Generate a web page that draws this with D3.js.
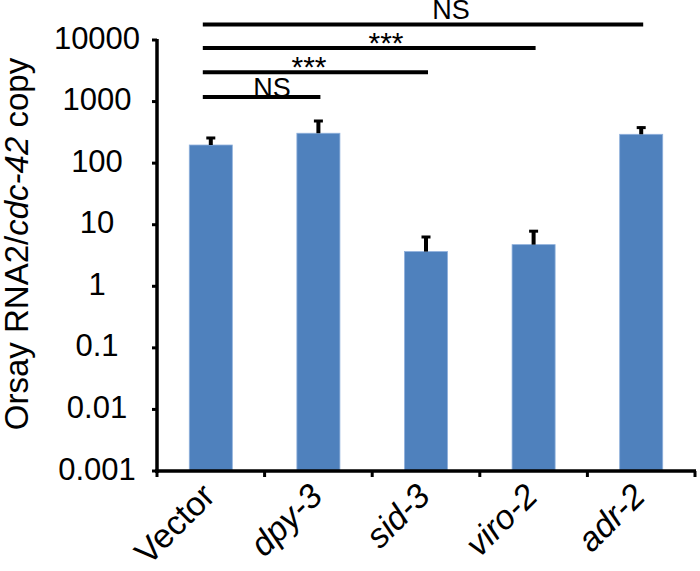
<!DOCTYPE html>
<html>
<head>
<meta charset="utf-8">
<style>
  body { margin: 0; background: #fff; }
  text { font-family: "Liberation Sans", Arial, sans-serif; fill: #000; }
</style>
</head>
<body>
<div id="chart"></div>
<script src="https://d3js.org/d3.v7.min.js"></script>
<script>

// data
var categories = ["Vector", "dpy-3", "sid-3", "viro-2", "adr-2"];
var italicCat  = [false, true, true, true, true];
var values     = [197, 306, 3.66, 4.75, 294];
var errors     = [69, 196, 2.9, 3.4, 98];
var tickValues = [0.001, 0.01, 0.1, 1, 10, 100, 1000, 10000];
var tickLabels = ["0.001", "0.01", "0.1", "1", "10", "100", "1000", "10000"];

// significance brackets: from bar, to bar, label, height (in axis units)
var sigFrom   = [0, 0, 0, 0];
var sigTo     = [1, 2, 3, 4];
var sigText   = ["NS", "***", "***", "NS"];
var sigLevel  = [1190, 3000, 7400, 17800];

var width = 700, height = 571;
var plotL = 157, plotR = 695, plotT = 40, plotB = 471;

var svg = d3.select("#chart").append("svg")
    .attr("width", width)
    .attr("height", height);

var x = d3.scaleBand()
    .domain(categories)
    .range([plotL, plotR])
    .paddingInner(0.6)
    .paddingOuter(0.3);

var y = d3.scaleLog()
    .domain([0.001, 10000])
    .range([plotB, plotT]);

var barcolor = "#4f81bd";

// bars
svg.selectAll("rect.bar")
   .data(categories)
   .enter().append("rect")
   .attr("class", "bar")
   .attr("x", function(d) { return x(d); })
   .attr("width", x.bandwidth())
   .attr("y", function(d, i) { return y(values[i]); })
   .attr("height", function(d, i) { return plotB - y(values[i]); })
   .style("fill", barcolor)
   .style("stroke", "#8fb0dc")
   .style("stroke-width", 0.8);

// error bars (upper only)
var cx = function(i) { return x(categories[i]) + x.bandwidth() / 2; };
categories.forEach(function(d, i) {
  var y0 = y(values[i]), y1 = y(values[i] + errors[i]);
  svg.append("line")
     .attr("x1", cx(i)).attr("x2", cx(i))
     .attr("y1", y0).attr("y2", y1)
     .style("stroke", "#000").style("stroke-width", 4);
  svg.append("line")
     .attr("x1", cx(i) - 4.5).attr("x2", cx(i) + 4.5)
     .attr("y1", y1 + 1).attr("y2", y1 + 1)
     .style("stroke", "#000").style("stroke-width", 3);
});

// y axis
svg.append("line")
   .attr("x1", plotL).attr("x2", plotL)
   .attr("y1", plotT - 1).attr("y2", plotB + 2)
   .style("stroke", "#000").style("stroke-width", 3.5);
tickValues.forEach(function(v, i) {
  svg.append("line")
     .attr("x1", plotL - 5).attr("x2", plotL)
     .attr("y1", y(v)).attr("y2", y(v))
     .style("stroke", "#000").style("stroke-width", 3);
  svg.append("text")
     .text(tickLabels[i])
     .style("font-size", "31px")
     .style("text-anchor", "middle")
     .attr("x", 97)
     .attr("y", y(v) + 8.5);
});

// x axis
svg.append("line")
   .attr("x1", plotL - 2).attr("x2", plotR + 1)
   .attr("y1", plotB).attr("y2", plotB)
   .style("stroke", "#000").style("stroke-width", 3.5);
var bounds = categories.map(function(d) { return x(d) - x.step() * x.paddingInner() / 2; });
bounds.push(plotR);
bounds.forEach(function(b) {
  svg.append("line")
     .attr("x1", b).attr("x2", b)
     .attr("y1", plotB).attr("y2", plotB + 6)
     .style("stroke", "#000").style("stroke-width", 3);
});

// category labels, rotated
categories.forEach(function(d, i) {
  svg.append("text")
     .text(d)
     .style("font-size", "34px")
     .style("font-style", italicCat[i] ? "italic" : "normal")
     .style("text-anchor", "end")
     .attr("transform", "translate(" + (cx(i) + 6) + "," + 498 + ") rotate(-45)");
});

// y axis title
var title = svg.append("text")
   .style("font-size", "33px")
   .style("text-anchor", "middle")
   .attr("transform", "translate(28,244) rotate(-90)");
title.append("tspan").text("Orsay RNA2/");
title.append("tspan").text("cdc-42").style("font-style", "italic");
title.append("tspan").text(" copy");

// significance brackets
var labelX  = [272, 309, 386, 451];
var labelDy = [0, 5, 5, -5.5];
var labelSz = [27, 30, 30, 27];
sigText.forEach(function(t, k) {
  var ly = y(sigLevel[k]);
  svg.append("text")
     .text(t)
     .style("font-size", labelSz[k] + "px")
     .style("text-anchor", "middle")
     .attr("x", labelX[k])
     .attr("y", ly + labelDy[k]);
  svg.append("line")
     .attr("x1", cx(sigFrom[k]) - 8).attr("x2", cx(sigTo[k]) + 2)
     .attr("y1", ly).attr("y2", ly)
     .style("stroke", "#000").style("stroke-width", 4);
});

</script>
</body>
</html>
